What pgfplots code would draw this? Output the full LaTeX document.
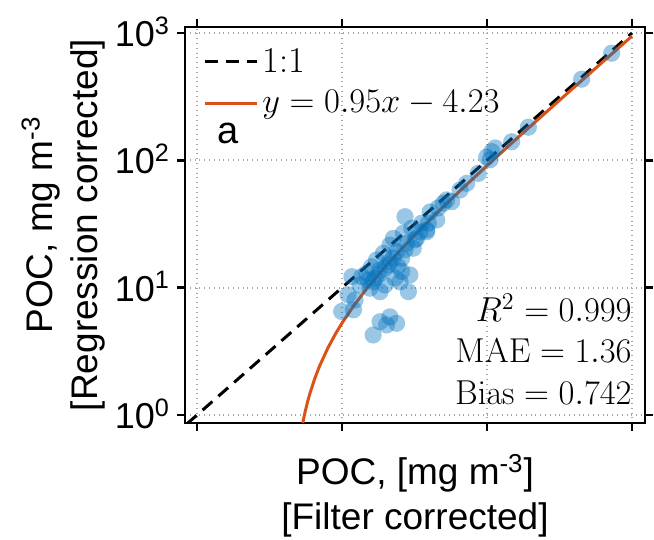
\documentclass[border=0pt]{standalone}
\usepackage[no-math]{fontspec}
\usepackage{pgfplots}
\pgfplotsset{compat=1.18}
\newfontfamily\arial{Liberation Sans}
\definecolor{mblue}{RGB}{0,114,189}
\definecolor{morange}{RGB}{217,83,25}
\begin{document}
\begin{tikzpicture}
\begin{axis}[name=ax,
  scale only axis, width=230pt, height=198pt,
  xmode=log, ymode=log,
  xmin=0.826, xmax=1230, ymin=0.865, ymax=1115,
  xtick={1,10,100,1000}, xticklabel=\empty,
  ytick={1,10,100,1000},
  yticklabels={10\textsuperscript{0},10\textsuperscript{1},10\textsuperscript{2},10\textsuperscript{3}},
  xminorticks=false, yminorticks=false,
  tick align=outside, major tick length=4pt,
  grid=major, major grid style={dotted, black!35, line width=0.9pt},
  axis line style={line width=1.2pt},
  every tick/.style={black, line width=1.2pt},
  y tick label style={font=\arial\fontsize{18}{20}\selectfont, anchor=base east, yshift=-6.8pt},
  xlabel={POC, [mg m\textsuperscript{-3}]\\{}[Filter corrected]},
  ylabel={POC, mg m\textsuperscript{-3}\\{}[Regression corrected]},
  xlabel style={font=\arial\fontsize{18.5}{22.5}\selectfont, align=center, at={([yshift=-12pt]axis description cs:0.5,0)}, anchor=north},
  ylabel style={font=\arial\fontsize{18.5}{22.5}\selectfont, align=center, at={([xshift=-36.5pt]axis description cs:0,0.5)}, anchor=south},
  legend style={at={(rel axis cs:0,1)}, anchor=north west, draw=none, fill=none,
    font=\fontsize{18.2}{21.5}\selectfont, xshift=6pt, yshift=-6.5pt,
    row sep=3.5pt},
  legend cell align=left,
  legend image code/.code={\draw[#1] (0pt,0pt) -- (26pt,0pt);},
]
\addplot[only marks, mark=*, mark size=4.3pt, forget plot, color=mblue,
  mark options={draw opacity=0, fill=mblue, fill opacity=0.4}] coordinates {
(724,694) (450,434) (193,182) (148,140) (108,117) (114,125) (99.5,106) (105,101)
(87,79) (72.4,66) (65.2,58.5) (57.1,47.4) (50,46) (46.1,42.3) (40.5,39.3)
(39.4,32.1) (45,34.0) (38.4,28.4) (27.2,36.1) (52.7,48.9) (35.5,32.1) (30.3,29.3)
(38.4,27.5) (26.5,26.8) (22.6,24.4) (32.7,24.4) (27.9,22.3) (21.4,21.6) (31.0,20.4)
(23.8,19.2) (19.3,18.6) (17.3,16.5) (25.8,17.0) (21.4,16.0) (16.0,14.6) (19.8,14.2)
(25.8,13.4) (14.8,13.0) (11.7,12.2) (17.8,12.6) (23.2,11.9) (16.4,11.1) (25.1,11.1)
(15.6,9.9) (18.3,9.3) (28.7,9.3) (11.0,8.8) (12.3,8.0) (9.95,6.5) (12.0,6.7)
(18.3,5.4) (21.4,5.9) (23.8,5.25) (20.3,5.1) (16.4,4.25) (13.7,12.2) (13.3,10.5)
(29.4,12.6) (20.8,15.1) (18.3,13.8) (22.5,17.1) (27.2,19.8) (16.9,11.9) (24.3,14.8)
(31.9,23.7) (34.5,27.4) (19.8,10.5) (15.1,11.5)
};
\addplot[black, line width=1.5pt, dash pattern=on 6.5pt off 4pt] coordinates {(0.85,0.85) (1000,1000)};
\addlegendentry{1:1}
\addplot[morange, line width=1.5pt] coordinates {
(5.365,0.8668) (5.4,0.90) (5.505,1.0) (5.6,1.09) (5.8,1.28) (6.0,1.47) (6.5,1.945) (7,2.42)
(8,3.37) (9,4.32) (10,5.27) (12,7.17) (15,10.02) (20,14.77) (25,19.52) (30,24.27)
(40,33.77) (50,43.27) (70,62.27) (100,90.77) (150,138.27) (200,185.77) (300,280.77)
(500,470.77) (700,660.77) (1000,945.77)};
\addlegendentry{$y=0.95x-4.23$}
\node[font=\arial\fontsize{19}{20}\selectfont] at (axis cs:1.64,164) {a};
\node[font=\fontsize{18.3}{20}\selectfont, anchor=base east, inner sep=0pt] at (axis cs:1000,5.40) {$R^2=0.999$};
\node[font=\fontsize{18.3}{20}\selectfont, anchor=base east, inner sep=0pt] at (axis cs:1000,2.585) {$\mathrm{MAE}=1.36$};
\node[font=\fontsize{18.3}{20}\selectfont, anchor=base east, inner sep=0pt] at (axis cs:1000,1.215) {$\mathrm{Bias}=0.742$};
\end{axis}
\pgfresetboundingbox
\path[use as bounding box] ([shift={(-92.5pt,-58.5pt)}]ax.south west) rectangle ++(327pt,270pt);
\end{tikzpicture}
\end{document}
